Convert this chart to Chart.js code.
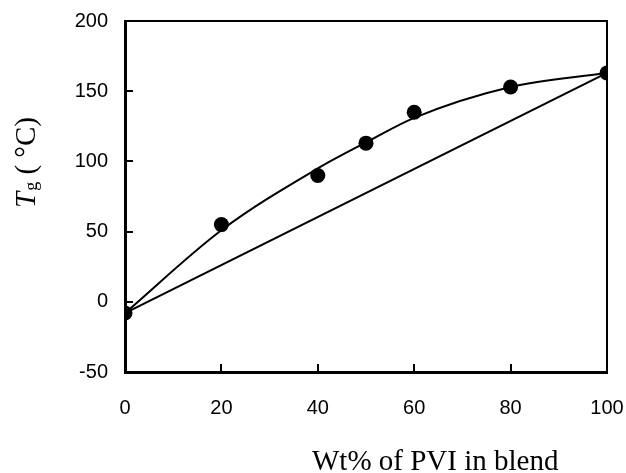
<!DOCTYPE html>
<html>
<head>
<meta charset="utf-8">
<script src="https://cdn.jsdelivr.net/npm/chart.js@4.4.1/dist/chart.umd.min.js"></script>
<style>
  html, body { margin: 0; padding: 0; background: #fff; }
  #c { display: block; }
</style>
</head>
<body>
<canvas id="c" width="626" height="473"></canvas>
<script>
// ---- data ----
const wtPVI      = [0, 20, 40, 50, 60, 80, 100];          // Wt% of PVI in blend
const tgMeasured = [-8, 55, 90, 113, 135, 153, 163];      // measured Tg (°C)
const tgFitted   = [-8, 51, 95, 113.5, 131, 153, 163];    // smooth fitted curve (°C)
const linearX    = [0, 100];                              // additivity line ends
const linearY    = [-8, 163];
const xTicks     = [0, 20, 40, 60, 80, 100];
const yTicks     = [-50, 0, 50, 100, 150, 200];
const xTitle     = 'Wt% of PVI in blend';
const yTitleMain = 'T';
const yTitleSub  = 'g';
const yTitleRest = ' ( °C)';

const toXY = (xs, ys) => xs.map((x, i) => ({ x: x, y: ys[i] }));

const titlesPlugin = {
  id: 'titles',
  afterDraw(chart) {
    const ctx = chart.ctx;
    ctx.save();
    ctx.fillStyle = '#000';
    ctx.textBaseline = 'alphabetic';
    // x-axis title
    ctx.textAlign = 'left';
    ctx.font = '29px "Liberation Serif", "Times New Roman", serif';
    ctx.fillText(xTitle, 312, 470);
    // y-axis title (rotated)
    ctx.translate(35, 208);
    ctx.rotate(-Math.PI / 2);
    ctx.font = 'italic 29px "Liberation Serif", "Times New Roman", serif';
    ctx.fillText(yTitleMain, 0, 0);
    let w = ctx.measureText(yTitleMain).width;
    ctx.font = '18px "Liberation Serif", "Times New Roman", serif';
    ctx.fillText(yTitleSub, w + 1, 2);
    w += ctx.measureText(yTitleSub).width + 1;
    ctx.font = '29px "Liberation Serif", "Times New Roman", serif';
    ctx.fillText(yTitleRest, w, 0);
    ctx.restore();
  }
};

const tickFont = { family: '"Liberation Sans", Arial, Helvetica, sans-serif', size: 20 };
const noPad = s => { s.paddingLeft = 0; s.paddingRight = 0; s.paddingTop = 0; s.paddingBottom = 0; };

new Chart(document.getElementById('c'), {
  type: 'scatter',
  data: {
    datasets: [
      {
        label: 'measured',
        data: toXY(wtPVI, tgMeasured),
        pointRadius: 7.5,
        pointBackgroundColor: '#000',
        pointBorderColor: '#000',
        pointBorderWidth: 0,
        showLine: false
      },
      {
        label: 'fit',
        data: toXY(wtPVI, tgFitted),
        showLine: true,
        borderColor: '#000',
        borderWidth: 2,
        pointRadius: 0,
        cubicInterpolationMode: 'monotone',
        fill: false
      },
      {
        label: 'linear',
        data: toXY(linearX, linearY),
        showLine: true,
        borderColor: '#000',
        borderWidth: 2,
        pointRadius: 0,
        tension: 0,
        fill: false
      }
    ]
  },
  options: {
    responsive: false,
    animation: false,
    layout: { padding: { left: 0, right: 19, top: 21, bottom: 0 } },
    plugins: { legend: { display: false }, tooltip: { enabled: false } },
    scales: {
      x: {
        type: 'linear',
        position: 'bottom',
        min: 0, max: 100,
        afterBuildTicks: s => { s.ticks = xTicks.map(v => ({ value: v })); },
        afterFit: s => { s.height = 101; noPad(s); },
        border: { display: true, color: '#000', width: 3 },
        grid: { drawOnChartArea: false, drawTicks: true, tickLength: -8, color: '#000', lineWidth: 2 },
        ticks: { color: '#000', font: tickFont, padding: 32, maxRotation: 0 }
      },
      y: {
        type: 'linear',
        position: 'left',
        min: -50, max: 200,
        afterBuildTicks: s => { s.ticks = yTicks.map(v => ({ value: v })); },
        afterFit: s => { s.width = 125; noPad(s); },
        border: { display: true, color: '#000', width: 3 },
        grid: { drawOnChartArea: false, drawTicks: true, tickLength: -8, color: '#000', lineWidth: 2 },
        ticks: { color: '#000', font: tickFont, padding: 25 }
      },
      x2: {
        type: 'linear',
        position: 'top',
        min: 0, max: 100,
        afterFit: s => { s.height = 0; noPad(s); },
        border: { display: true, color: '#000', width: 2 },
        grid: { display: false, drawTicks: false },
        ticks: { display: false }
      },
      y2: {
        type: 'linear',
        position: 'right',
        min: -50, max: 200,
        afterFit: s => { s.width = 0; noPad(s); },
        border: { display: true, color: '#000', width: 2 },
        grid: { display: false, drawTicks: false },
        ticks: { display: false }
      }
    }
  },
  plugins: [titlesPlugin]
});
</script>
</body>
</html>
